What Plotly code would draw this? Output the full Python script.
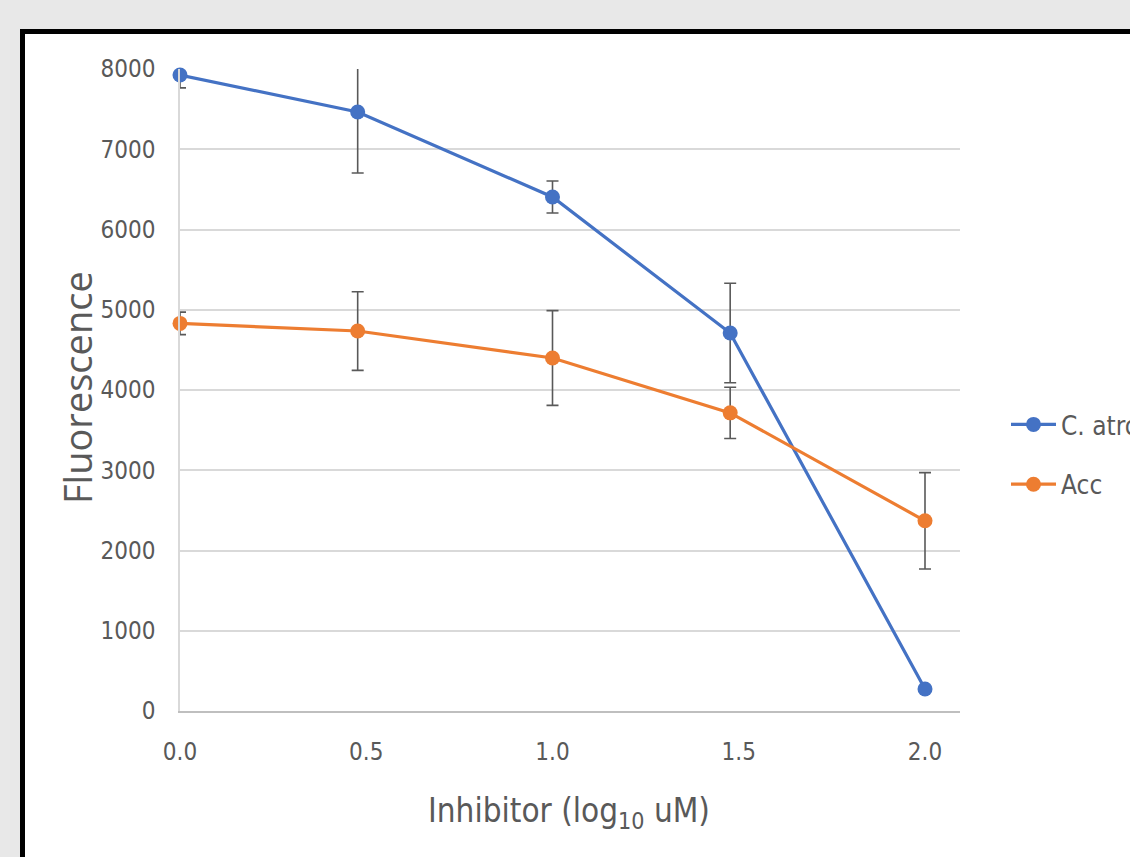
import plotly.graph_objects as go

# Data
x_log = [0.0, 0.477, 1.0, 1.477, 2.0]
series_names = ["C. atrox", "Acc"]
atro = [7925, 7464, 6405, 4710, 274]
atro_err = [160, 760, 200, 620, 40]
acc = [4830, 4735, 4399, 3715, 2370]
acc_err = [140, 490, 590, 320, 600]
x_ticks = [0.0, 0.5, 1.0, 1.5, 2.0]
y_ticks = [0, 1000, 2000, 3000, 4000, 5000, 6000, 7000, 8000]

W, H = 1130, 857
PL, PR, PT, PB = 180, 960, 69, 711  # plot area in pixels


def px2paper_x(px):
    return (px - PL) / (PR - PL)


def px2paper_y(py):
    return (PB - py) / (PB - PT)


GRAY_TXT = "#595959"
NARROW = "DejaVu Sans Condensed, Liberation Sans Narrow, Arial Narrow, sans-serif"

fig = go.Figure()
for name, ys, es, col, grp in [
    (series_names[0], atro, atro_err, "#4472C4", "a"),
    (series_names[1], acc, acc_err, "#ED7D31", "b"),
]:
    fig.add_trace(go.Scatter(
        x=x_log, y=ys, name=name, mode="lines+markers",
        line=dict(color=col, width=3.2),
        marker=dict(color=col, size=15),
        error_y=dict(type="data", array=es, visible=True,
                     color=GRAY_TXT, thickness=1.6, width=6),
        legendgroup=grp,
        cliponaxis=False,
    ))

fig.add_shape(type="rect", xref="paper", yref="paper",
              x0=px2paper_x(22.5), y0=px2paper_y(31.5),
              x1=px2paper_x(1300), y1=px2paper_y(1000),
              line=dict(color="black", width=5), fillcolor="white",
              layer="below")

fig.add_annotation(text="Fluorescence", textangle=-90,
                   xref="paper", yref="paper",
                   x=px2paper_x(77), y=px2paper_y(388),
                   xanchor="center", yanchor="middle", showarrow=False,
                   font=dict(family="Open Sans, sans-serif", size=38, color=GRAY_TXT))
fig.add_annotation(text="Inhibitor (log<sub>10</sub> uM)",
                   xref="paper", yref="paper",
                   x=px2paper_x(569), y=px2paper_y(812),
                   xanchor="center", yanchor="middle", showarrow=False,
                   font=dict(family=NARROW, size=33, color=GRAY_TXT))

fig.update_layout(
    width=W, height=H,
    margin=dict(l=PL, r=W - PR, t=PT, b=H - PB, autoexpand=False),
    paper_bgcolor="#e8e8e8", plot_bgcolor="white",
    showlegend=True,
    legend=dict(x=px2paper_x(1006), y=px2paper_y(401), xanchor="left", yanchor="top",
                font=dict(family=NARROW, size=26, color=GRAY_TXT),
                bgcolor="rgba(0,0,0,0)", tracegroupgap=23, traceorder="grouped",
                itemwidth=45),
    xaxis=dict(range=[0, (PR - PL) / 372.5], tickvals=x_ticks, tickformat=".1f",
               showgrid=False, zeroline=False, showline=True,
               linecolor="#bfbfbf", linewidth=1.5, ticks="",
               ticklabelstandoff=18,
               tickfont=dict(family=NARROW, size=24, color=GRAY_TXT)),
    yaxis=dict(range=[0, 8000], tickvals=y_ticks, showgrid=True,
               gridcolor="#d9d9d9", gridwidth=1.5, zeroline=False,
               showline=True, linecolor="#d9d9d9", linewidth=1.5, ticks="",
               ticklabelstandoff=18,
               tickfont=dict(family=NARROW, size=24, color=GRAY_TXT)),
)

fig.write_html("out.html")
